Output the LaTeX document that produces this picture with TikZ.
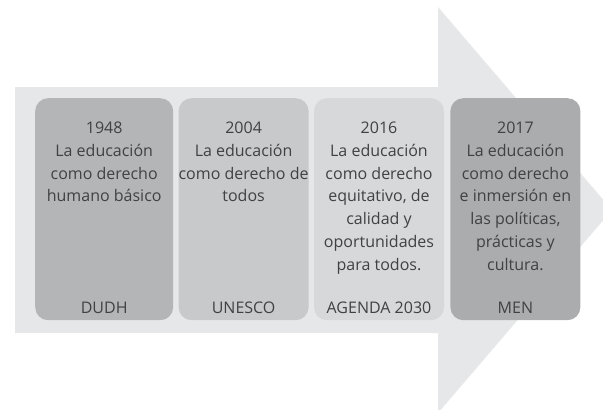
\documentclass[tikz,border=0pt]{standalone}
\usepackage{fontspec}
\setmainfont{Open Sans}
\usetikzlibrary{positioning}
\definecolor{flechagris}{HTML}{E6E7E8}
\definecolor{gris1}{HTML}{B4B5B7}
\definecolor{gris2}{HTML}{C8C9CB}
\definecolor{gris3}{HTML}{D7D8DA}
\definecolor{gris4}{HTML}{ABACAE}
\definecolor{textogris}{HTML}{414143}
\tikzset{
every node/.style={text=textogris}, % color del texto
etapa/.style={rectangle, rounded corners=13pt, minimum width=130pt, minimum height=222pt, inner sep=0pt, anchor=north west},
texto/.style={align=center, inner sep=0pt, font=\fontsize{16}{22.7}\selectfont},
}

\begin{document}
\begin{tikzpicture}[x=1pt,y=-1pt]
        \useasboundingbox (0,0) rectangle (603,410);
        \clip (0,0) rectangle (603,410);
        % flecha de fondo
        \fill[flechagris] (15,87) -- (438,87) -- (438,7) -- (612,210) -- (438,413) -- (438,333) -- (15,333) -- cycle;

        \node[etapa, fill=gris1, minimum width=138pt] (b1) at (35,98) {};
        \node[etapa, fill=gris2, right=5pt of b1] (b2) {};
        \node[etapa, fill=gris3, right=5pt of b2] (b3) {};
        \node[etapa, fill=gris4, right=6pt of b3] (b4) {};

        \node[texto, below=24pt of b1.north] (t1) {1948\\La educación\\como derecho\\humano básico};
        \node[texto, below=24pt of b2.north] (t2) {2004\\La educación\\como derecho de\\todos};
        \node[texto, below=24pt of b3.north] (t3) {2016\\La educación\\como derecho\\equitativo, de\\calidad y\\oportunidades\\para todos.};
        \node[texto, below=24pt of b4.north] (t4) {2017\\La educación\\como derecho\\e inmersión en\\las políticas,\\prácticas y\\cultura.};

        \node[texto, above=6.5pt of b1.south, anchor=base] (s1) {DUDH};
        \node[texto, above=6.5pt of b2.south, anchor=base] (s2) {UNESCO};
        \node[texto, above=6.5pt of b3.south, anchor=base] (s3) {AGENDA 2030};
        \node[texto, above=6.5pt of b4.south, anchor=base] (s4) {MEN};
      \end{tikzpicture}
\end{document}
